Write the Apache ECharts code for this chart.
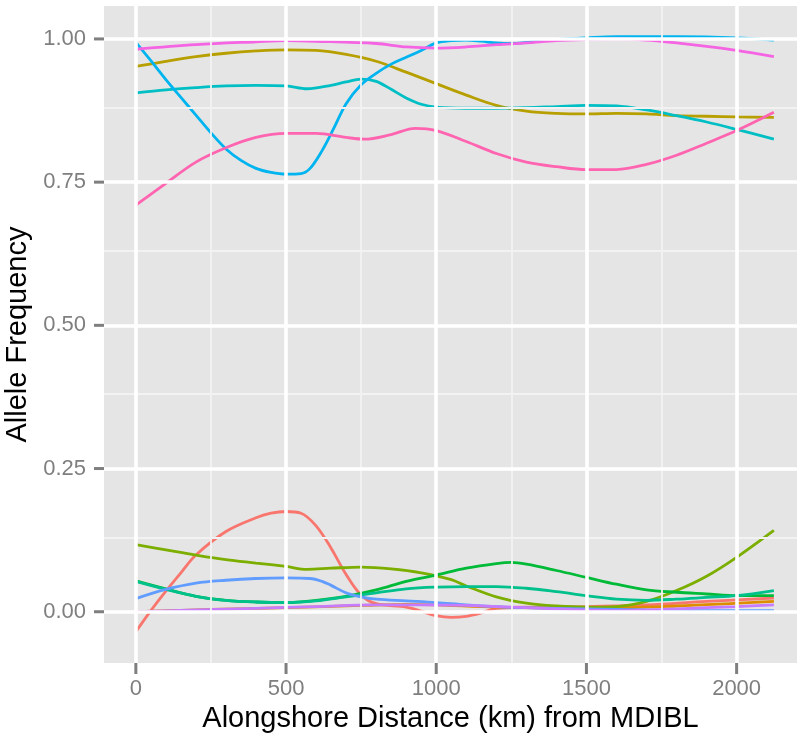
<!DOCTYPE html>
<html><head><meta charset="utf-8">
<script src="https://cdn.jsdelivr.net/npm/echarts@6/dist/echarts.min.js"></script>
<style>html,body{margin:0;padding:0;background:#fff}#c{width:797px;height:736px}</style>
</head><body><div id="c"></div>
<script>
// Axis ticks
const xMajorTicks = [0, 500, 1000, 1500, 2000];
const xMinorTicks = [250, 750, 1250, 1750];
const yMajorTicks = [0, 0.25, 0.5, 0.75, 1.0];
const yMinorTicks = [0.125, 0.375, 0.625, 0.875];

// Series (loess curves of allele frequency vs distance)
const redX = [0,50,100,150,200,300,400,450,500,550,600,650,700,750,800,900,950,1000,1050,1100,1150,1200,1300,1500,1700,1900,2124];
const redY = [-0.035,0.002,0.036,0.068,0.099,0.140,0.164,0.172,0.175,0.172,0.150,0.111,0.065,0.029,0.014,0.008,0.001,-0.007,-0.010,-0.008,-0.002,0.006,0.008,0.009,0.012,0.018,0.024];

const orangeX = [0,250,500,750,900,1000,1200,1500,1800,2124];
const orangeY = [0.000,0.004,0.007,0.011,0.013,0.012,0.008,0.006,0.010,0.018];

const oliveX = [0,100,200,300,400,500,600,700,800,900,1000,1100,1200,1300,1400,1500,1600,1700,1800,1900,2000,2124];
const oliveY = [0.952,0.961,0.969,0.975,0.979,0.981,0.980,0.973,0.961,0.942,0.922,0.902,0.884,0.874,0.870,0.869,0.870,0.869,0.866,0.865,0.864,0.863];

const oliveGreenX = [0,100,200,300,400,500,570,650,750,850,950,1050,1100,1200,1300,1400,1500,1600,1700,1800,1900,2000,2124];
const oliveGreenY = [0.117,0.108,0.099,0.091,0.085,0.079,0.074,0.076,0.078,0.075,0.068,0.056,0.045,0.026,0.015,0.010,0.008,0.009,0.018,0.037,0.062,0.095,0.142];

const greenX = [0,100,200,300,400,500,600,700,800,900,1000,1100,1200,1250,1300,1400,1500,1600,1700,1800,1900,2000,2124];
const greenY = [0.054,0.040,0.027,0.020,0.017,0.016,0.020,0.027,0.038,0.053,0.064,0.076,0.084,0.086,0.083,0.072,0.060,0.048,0.038,0.034,0.031,0.028,0.028];

const tealX = [0,100,200,300,400,500,600,700,800,900,1000,1100,1200,1300,1400,1500,1600,1700,1800,1900,2000,2124];
const tealY = [0.053,0.039,0.027,0.020,0.017,0.016,0.019,0.026,0.033,0.040,0.043,0.044,0.044,0.041,0.035,0.028,0.022,0.020,0.022,0.025,0.028,0.037];

const cyanX = [0,100,200,300,400,500,570,650,700,750,800,850,900,950,1000,1100,1200,1300,1400,1500,1600,1700,1800,1900,2000,2124];
const cyanY = [0.906,0.911,0.915,0.918,0.919,0.918,0.913,0.919,0.925,0.930,0.926,0.912,0.897,0.886,0.881,0.879,0.879,0.880,0.882,0.884,0.883,0.876,0.866,0.855,0.842,0.825];

const skyBlueX = [0,50,100,150,200,250,300,350,400,450,500,550,580,620,660,700,750,800,850,900,950,1000,1050,1100,1150,1200,1250,1300,1400,1500,1600,1800,2000,2124];
const skyBlueY = [0.994,0.962,0.929,0.898,0.867,0.836,0.808,0.788,0.774,0.767,0.764,0.765,0.774,0.805,0.845,0.887,0.920,0.940,0.956,0.968,0.980,0.993,0.997,0.998,0.996,0.993,0.992,0.994,0.999,1.002,1.004,1.004,1.002,0.998];

const blueX = [0,100,200,300,400,500,580,620,650,700,750,800,900,1000,1100,1200,1300,1500,1700,1900,2124];
const blueY = [0.023,0.039,0.050,0.055,0.058,0.059,0.058,0.053,0.046,0.033,0.026,0.022,0.019,0.016,0.012,0.009,0.007,0.005,0.003,0.002,0.002];

const purpleX = [0,200,400,600,800,950,1100,1200,1300,1450,1600,1750,1900,2000,2124];
const purpleY = [0.000,0.003,0.006,0.009,0.012,0.012,0.011,0.009,0.007,0.004,0.002,0.004,0.007,0.009,0.012];

const magentaX = [0,200,400,500,600,800,900,1000,1100,1200,1300,1400,1500,1600,1700,1800,1900,2000,2124];
const magentaY = [0.982,0.990,0.995,0.997,0.996,0.992,0.986,0.984,0.986,0.990,0.993,0.997,0.999,1.000,0.998,0.993,0.987,0.980,0.969];

const pinkX = [0,100,200,300,400,500,600,700,760,850,930,1000,1100,1200,1300,1400,1500,1600,1700,1800,1900,2000,2124];
const pinkY = [0.710,0.748,0.785,0.810,0.828,0.835,0.835,0.828,0.825,0.833,0.844,0.840,0.821,0.800,0.785,0.777,0.772,0.772,0.781,0.797,0.818,0.840,0.872];

const seriesDefs = [
  {name:'1', color:'#F8766D', xs:redX, ys:redY},
  {name:'2', color:'#DE8C00', xs:orangeX, ys:orangeY},
  {name:'3', color:'#B79F00', xs:oliveX, ys:oliveY},
  {name:'4', color:'#7CAE00', xs:oliveGreenX, ys:oliveGreenY},
  {name:'5', color:'#00BA38', xs:greenX, ys:greenY},
  {name:'6', color:'#00C08B', xs:tealX, ys:tealY},
  {name:'7', color:'#00BFC4', xs:cyanX, ys:cyanY},
  {name:'8', color:'#00B4F0', xs:skyBlueX, ys:skyBlueY},
  {name:'9', color:'#619CFF', xs:blueX, ys:blueY},
  {name:'10', color:'#C77CFF', xs:purpleX, ys:purpleY},
  {name:'11', color:'#F564E3', xs:magentaX, ys:magentaY},
  {name:'12', color:'#FF64B0', xs:pinkX, ys:pinkY}
];

const X_MIN = -106, X_MAX = 2201, Y_MIN = -0.0895, Y_MAX = 1.0575;
const FONT = 'Liberation Sans, Arial, sans-serif';
const chart = echarts.init(document.getElementById('c'));

const gridSeries = {
  type:'line', name:'grid', data:[], z:1, silent:true,
  markLine:{
    silent:true, symbol:['none','none'], animation:false,
    label:{show:false}, emphasis:{disabled:true},
    data:[
      ...xMinorTicks.map(v=>({xAxis:v, lineStyle:{color:'#F2F2F2', width:1.8, type:'solid'}})),
      ...yMinorTicks.map(v=>({yAxis:v, lineStyle:{color:'#F2F2F2', width:1.8, type:'solid'}})),
      ...xMajorTicks.map(v=>({xAxis:v, lineStyle:{color:'#FFFFFF', width:3.6, type:'solid'}})),
      ...yMajorTicks.map(v=>({yAxis:v, lineStyle:{color:'#FFFFFF', width:3.6, type:'solid'}}))
    ]
  }
};

// Tick marks drawn outside the panel through the axis scales
const xTickSeries = {
  type:'custom', name:'xticks', silent:true, clip:false, z:5,
  data: xMajorTicks.map(v=>[v]),
  renderItem:(params, api) => {
    const p = api.coord([api.value(0), Y_MIN]);
    return {type:'line', shape:{x1:p[0], y1:p[1], x2:p[0], y2:p[1]+11},
            style:{stroke:'#7F7F7F', lineWidth:3}};
  }
};
const yTickSeries = {
  type:'custom', name:'yticks', silent:true, clip:false, z:5,
  data: yMajorTicks.map(v=>[v]),
  renderItem:(params, api) => {
    const p = api.coord([X_MIN, api.value(0)]);
    return {type:'line', shape:{x1:p[0]-10, y1:p[1], x2:p[0], y2:p[1]},
            style:{stroke:'#7F7F7F', lineWidth:3}};
  },
  encode:{x:-1, y:0}
};

const dataSeries = seriesDefs.map(s => ({
  type:'line', name:s.name, z:3,
  data: s.xs.map((x,i)=>[x, s.ys[i]]),
  smooth:0.35, showSymbol:false, symbol:'none',
  lineStyle:{color:s.color, width:2.8},
  itemStyle:{color:s.color},
  emphasis:{disabled:true}
}));

chart.setOption({
  animation:false,
  backgroundColor:'#FFFFFF',
  grid:{left:104, right:0, top:6, bottom:73, show:true, backgroundColor:'#E5E5E5', borderWidth:0,
        containLabel:false, outerBoundsMode:'none'},
  xAxis:{
    type:'value', min:X_MIN, max:X_MAX,
    axisLine:{show:false, onZero:false}, splitLine:{show:false},
    axisTick:{show:false},
    axisLabel:{customValues:xMajorTicks, margin:15, color:'#7F7F7F', fontSize:22, fontFamily:FONT,
      formatter:v=>String(v)},
    name:'Alongshore Distance (km) from MDIBL', nameLocation:'middle', nameGap:29,
    nameTextStyle:{color:'#000000', fontSize:29, fontFamily:FONT}
  },
  yAxis:{
    type:'value', min:Y_MIN, max:Y_MAX,
    axisLine:{show:false, onZero:false}, splitLine:{show:false},
    axisTick:{show:false},
    axisLabel:{customValues:yMajorTicks, margin:18, color:'#7F7F7F', fontSize:22, fontFamily:FONT,
      formatter:v=>Number(v).toFixed(2)},
    name:'Allele Frequency', nameLocation:'middle', nameGap:56,
    nameTextStyle:{color:'#000000', fontSize:29, fontFamily:FONT}
  },
  series:[gridSeries, ...dataSeries, xTickSeries, yTickSeries]
});
</script></body></html>
